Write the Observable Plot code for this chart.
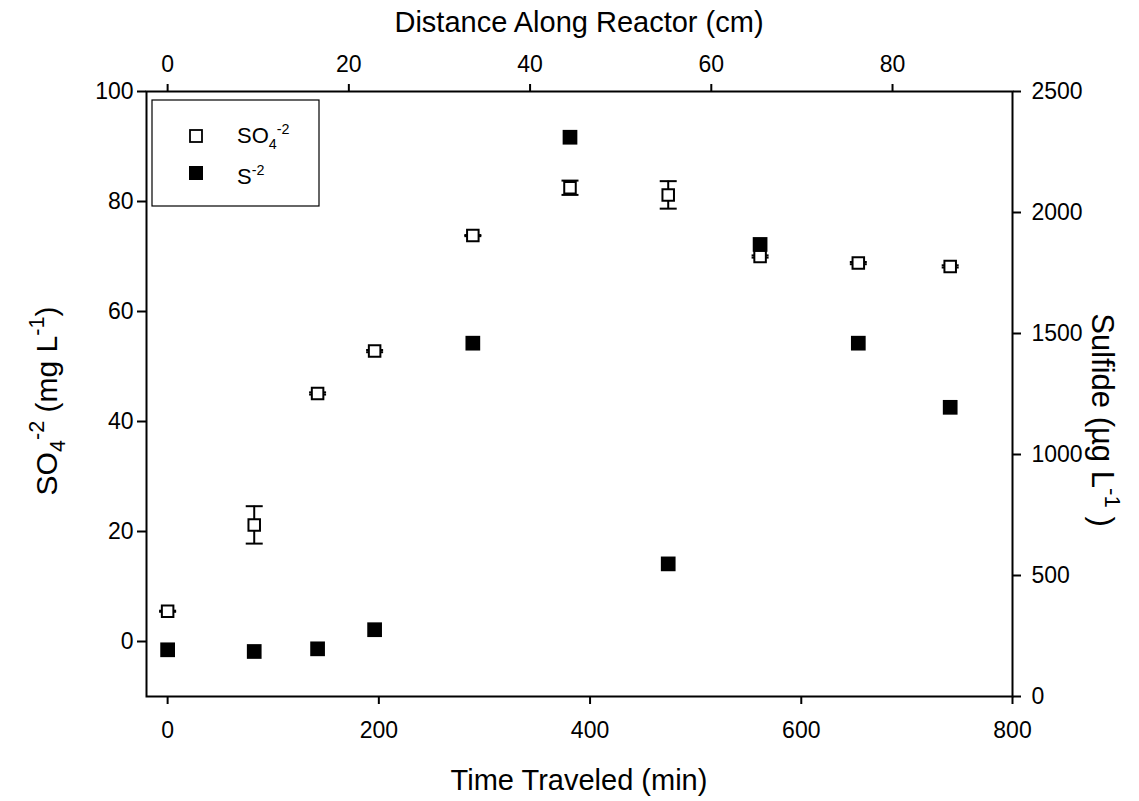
<!DOCTYPE html>
<html><head><meta charset="utf-8">
<script src="https://cdn.jsdelivr.net/npm/d3@7"></script>
<script src="https://cdn.jsdelivr.net/npm/@observablehq/plot@0.6"></script>
<style>
body{margin:0;background:#fff;}
#chart{position:relative;width:1139px;height:801px;}
</style>
</head><body><div id="chart"></div>
<script>
// ---- data ----
const timeMin    = [0, 82, 142, 196, 289, 381, 474, 561, 654, 741];
const sulfate    = [5.5, 21.2, 45.1, 52.8, 73.8, 82.5, 81.2, 70.0, 68.8, 68.2];
const sulfateErr = [0.1, 3.4, 0.2, 0.2, 0.1, 1.3, 2.5, 0.2, 0.2, 0.2];
const sulfide    = [193, 186, 197, 276, 1460, 2311, 548, 1868, 1460, 1195];

const timeTicks    = [0, 200, 400, 600, 800];
const distTicks    = [0, 20, 40, 60, 80];
const so4Ticks     = [0, 20, 40, 60, 80, 100];
const sulfideTicks = [0, 500, 1000, 1500, 2000, 2500];

const xDomain = [-20, 800];
const yDomain = [-10, 100];
const sulfideDomain = [0, 2500];
const minPerCm = 8.58;

const toLeft = s => yDomain[0] + (s - sulfideDomain[0]) / (sulfideDomain[1] - sulfideDomain[0]) * (yDomain[1] - yDomain[0]);
const fromLeft = y => sulfideDomain[0] + (y - yDomain[0]) / (yDomain[1] - yDomain[0]) * (sulfideDomain[1] - sulfideDomain[0]);

const rows = timeMin.map((t, i) => ({t, so4: sulfate[i], err: sulfateErr[i], s: sulfide[i], sy: toLeft(sulfide[i])}));

const capSymbol = {draw(ctx, size) { const r = Math.sqrt(size / Math.PI); ctx.moveTo(-r, 0); ctx.lineTo(r, 0); }};

const FONT = "'Liberation Sans', Arial, Helvetica, sans-serif";
const TICK_FS = 23;

const plot = Plot.plot({
  width: 1139, height: 801,
  marginLeft: 146, marginRight: 127, marginTop: 91, marginBottom: 105,
  x: {domain: xDomain},
  y: {domain: yDomain},
  style: {fontFamily: FONT, fontSize: TICK_FS + "px", color: "black", background: "white", overflow: "visible"},
  marks: [
    Plot.axisX(timeTicks, {anchor: "bottom", tickSize: 8, tickPadding: 17, strokeWidth: 2, fontSize: TICK_FS, label: null, tickFormat: d => String(d)}),
    Plot.axisX(distTicks.map(c => c * minPerCm), {anchor: "top", tickSize: 8, tickPadding: 12, strokeWidth: 2, fontSize: TICK_FS, label: null, tickFormat: d => String(Math.round(d / minPerCm))}),
    Plot.axisY(so4Ticks, {anchor: "left", tickSize: 9, tickPadding: 4, strokeWidth: 2, fontSize: TICK_FS, label: null, tickFormat: d => String(d)}),
    Plot.axisY(sulfideTicks.map(toLeft), {anchor: "right", tickSize: 8, tickPadding: 11, strokeWidth: 2, fontSize: TICK_FS, label: null, tickFormat: d => String(Math.round(fromLeft(d)))}),
    Plot.frame({stroke: "black", strokeWidth: 2}),
    Plot.ruleX(rows, {x: "t", y1: d => d.so4 - d.err, y2: d => d.so4 + d.err, stroke: "black", strokeWidth: 2}),
    Plot.dot(rows, {x: "t", y: d => d.so4 + d.err, symbol: capSymbol, r: 8.5, stroke: "black", strokeWidth: 2}),
    Plot.dot(rows, {x: "t", y: d => d.so4 - d.err, symbol: capSymbol, r: 8.5, stroke: "black", strokeWidth: 2}),
    Plot.dot(rows, {x: "t", y: "so4", symbol: "square", r: 6.5, fill: "white", stroke: "black", strokeWidth: 2}),
    Plot.dot(rows, {x: "t", y: "sy", symbol: "square", r: 8.3, fill: "black", stroke: "none"})
  ]
});
document.getElementById("chart").appendChild(plot);

// ---- rich text helper (sub/superscripts) ----
function richText(parent, segs, size, attrs, smallRatio = 0.68) {
  const t = parent.append("text").attr("font-family", FONT).attr("font-size", size)
    .attr("fill", "black").attr("text-anchor", "start");
  for (const [k, v] of Object.entries(attrs || {})) t.attr(k, v);
  let cur = 0;
  const small = size * smallRatio;
  for (const s of segs) {
    const target = s.sub ? size * 0.28 : s.sup ? -size * 0.42 : 0;
    const sp = t.append("tspan").text(s.t).attr("font-size", (s.sub || s.sup) ? small : size);
    if (target !== cur) sp.attr("dy", target - cur);
    cur = target;
  }
  return t;
}

const svg = d3.select(plot);

// axis titles
richText(svg, [{t: "Distance Along Reactor (cm)"}], 29, {x: 579, y: 32, "text-anchor": "middle"});
richText(svg, [{t: "Time Traveled (min)"}], 29, {x: 579, y: 790, "text-anchor": "middle"});
richText(svg.append("g").attr("transform", "translate(57,401) rotate(-90)"),
  [{t: "SO"}, {t: "4", sub: true}, {t: "-2", sup: true}, {t: " (mg L"}, {t: "-1", sup: true}, {t: ")"}],
  30, {x: 0, y: 0, "text-anchor": "middle"}, 0.72);
richText(svg.append("g").attr("transform", "translate(1092,420) rotate(90)"),
  [{t: "Sulfide (\u00b5g L"}, {t: "-1", sup: true}, {t: " )"}],
  31, {x: 0, y: 0, "text-anchor": "middle"}, 0.72);

// legend
const lg = svg.append("g");
lg.append("rect").attr("x", 152).attr("y", 100).attr("width", 167).attr("height", 106)
  .attr("fill", "white").attr("stroke", "black").attr("stroke-width", 1.2);
lg.append("rect").attr("x", 190).attr("y", 130).attr("width", 12).attr("height", 12)
  .attr("fill", "white").attr("stroke", "black").attr("stroke-width", 1.8);
lg.append("rect").attr("x", 189).attr("y", 166).attr("width", 14).attr("height", 14).attr("fill", "black");
richText(lg, [{t: "SO"}, {t: "4", sub: true}, {t: "-2", sup: true}], 22, {x: 237, y: 143}, 0.65);
richText(lg, [{t: "S"}, {t: "-2", sup: true}], 22, {x: 237, y: 184}, 0.65);
</script>
</body></html>
